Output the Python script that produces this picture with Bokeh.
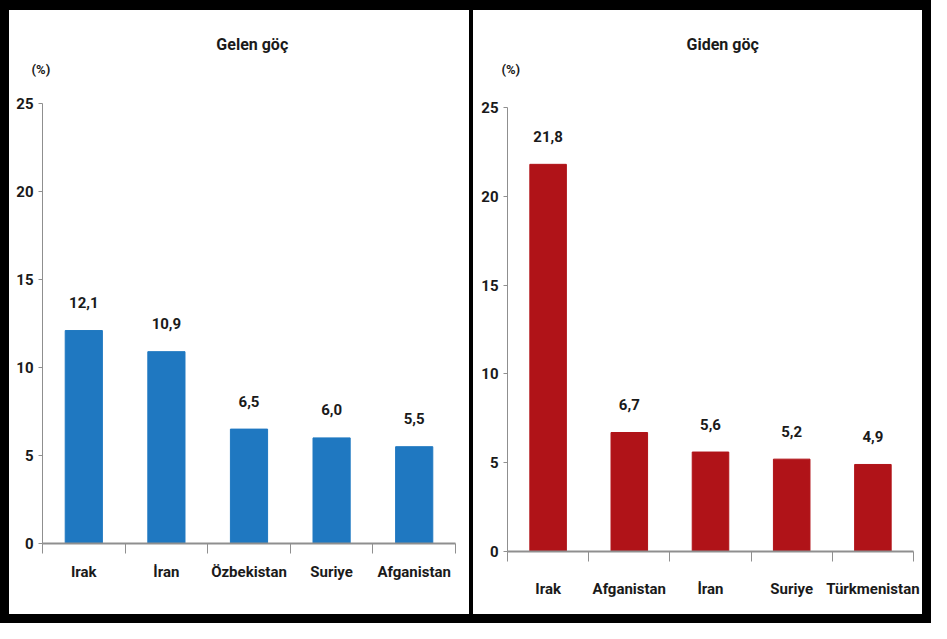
from bokeh.plotting import figure
from bokeh.models import Range1d, FixedTicker, Label, LabelSet, ColumnDataSource, Div
from bokeh.layouts import row, column
from bokeh.core.properties import value
from bokeh.embed import file_html
from bokeh.resources import INLINE

# ---- data ----
gelen_title = "Gelen göç"
gelen_countries = ["Irak", "İran", "Özbekistan", "Suriye", "Afganistan"]
gelen_values = [12.1, 10.9, 6.5, 6.0, 5.5]

giden_title = "Giden göç"
giden_countries = ["Irak", "Afganistan", "İran", "Suriye", "Türkmenistan"]
giden_values = [21.8, 6.7, 5.6, 5.2, 4.9]

y_ticks = [0, 5, 10, 15, 20, 25]
y_max = 25
unit_label = "(%)"

FONT = "Roboto"
TXT = "#1a1a1a"
AXIS = "#8f8f8f"


def panel(title, cats, vals, color, width, height, axis_px, right_b, top_px,
          bottom_b, cat_standoff, title_x, title_dy, pct_x, pct_dy):
    n = len(cats)
    px_cat = (width - right_b - axis_px) / n
    px_unit = (height - bottom_b - top_px) / y_max
    x_start = -0.5 - axis_px / px_cat
    x_end = n - 0.5 + right_b / px_cat
    y_start = -bottom_b / px_unit
    y_end = (height - bottom_b) / px_unit

    p = figure(width=width, height=height, x_range=Range1d(x_start, x_end),
               y_range=Range1d(y_start, y_end), toolbar_location=None,
               output_backend="svg", min_border_left=0, min_border_right=0,
               min_border_top=0, min_border_bottom=0)
    p.outline_line_color = None
    p.xgrid.visible = False
    p.ygrid.visible = False
    p.background_fill_color = "white"
    p.border_fill_color = "white"

    xs = list(range(n))
    labels = [f"{v:.1f}".replace(".", ",") for v in vals]
    src = ColumnDataSource(dict(x=xs, top=vals, lab=labels))
    p.vbar(x="x", top="top", bottom=0, width=0.45, source=src,
           fill_color=color, line_color=color)

    p.add_layout(LabelSet(x="x", y="top", text="lab", source=src,
                          y_offset=28, text_align="center",
                          text_baseline="middle", text_font=value(FONT),
                          text_font_style="bold", text_font_size="15px",
                          text_color=TXT))

    # y axis, pinned at the left edge of the first category slot
    ya = p.yaxis[0]
    ya.fixed_location = -0.5
    ya.bounds = (0, y_max)
    ya.ticker = FixedTicker(ticks=y_ticks, minor_ticks=[])
    ya.axis_line_color = AXIS
    ya.major_tick_line_color = AXIS
    ya.major_tick_out = 4
    ya.major_tick_in = 0
    ya.major_label_standoff = 5
    ya.major_label_text_font = FONT
    ya.major_label_text_font_style = "bold"
    ya.major_label_text_font_size = "15px"
    ya.major_label_text_color = TXT

    # x axis, pinned at y = 0
    xa = p.xaxis[0]
    xa.fixed_location = 0
    xa.bounds = (-0.5, n - 0.5)
    xa.ticker = FixedTicker(ticks=xs, minor_ticks=[i - 0.5 for i in range(n + 1)])
    xa.major_label_overrides = {i: c for i, c in enumerate(cats)}
    xa.axis_line_color = AXIS
    xa.axis_line_width = 2
    xa.major_tick_line_color = None
    xa.major_tick_out = 0
    xa.major_tick_in = 0
    xa.minor_tick_line_color = AXIS
    xa.minor_tick_out = 10
    xa.minor_tick_in = 0
    xa.major_label_standoff = cat_standoff
    xa.major_label_text_font = FONT
    xa.major_label_text_font_style = "bold"
    xa.major_label_text_font_size = "15px"
    xa.major_label_text_color = TXT

    p.add_layout(Label(x=title_x, y=y_max + title_dy / px_unit, text=title,
                       text_align="center", text_baseline="middle",
                       text_font=FONT, text_font_style="bold",
                       text_font_size="16px", text_color=TXT))
    p.add_layout(Label(x=pct_x, y=y_max + pct_dy / px_unit, text=unit_label,
                       text_align="center", text_baseline="middle",
                       text_font=FONT, text_font_style="bold",
                       text_font_size="13px", text_color=TXT))
    return p


H = 604
p1 = panel(gelen_title, gelen_countries, gelen_values, "#1f78c1", 460, H,
           33, 14, 93, 71, 9, 2.04, 59, -0.52, 34)
p2 = panel(giden_title, giden_countries, giden_values, "#b01318", 449, H,
           34, 9, 97, 63, 18, 2.15, 63, -0.46, 38)


def bar(w, h):
    return Div(text="", width=w, height=h, margin=0,
               styles={"background-color": "black"})


inner = row(bar(9, H), p1, bar(4, H), p2, bar(9, H), spacing=0)
layout = column(bar(931, 10), inner, bar(931, 9), spacing=0)

open("out.html", "w").write(file_html(layout, INLINE))
